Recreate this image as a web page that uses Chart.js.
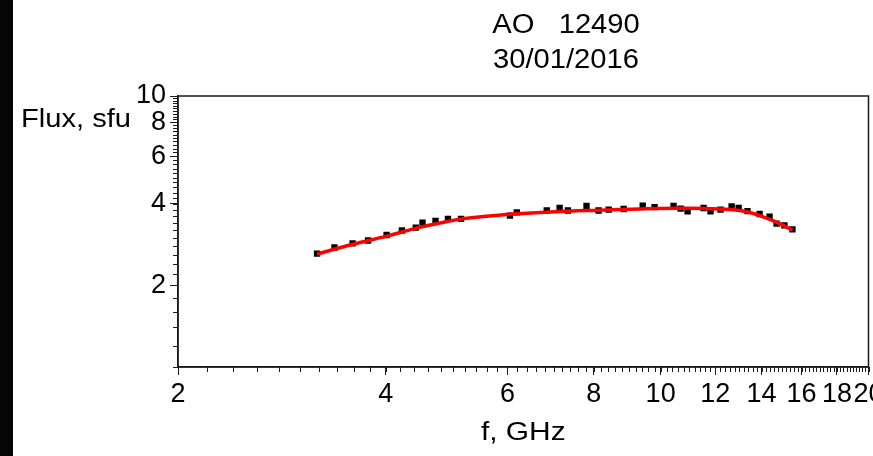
<!DOCTYPE html>
<html>
<head>
<meta charset="utf-8">
<script src="https://cdn.jsdelivr.net/npm/chart.js@4.4.1/dist/chart.umd.min.js"></script>
<style>
  html, body { margin: 0; padding: 0; background: #fff; overflow: hidden; }
  #wrap { position: relative; width: 873px; height: 456px; }
  #strip { position: absolute; left: 0; top: 0; width: 13px; height: 456px; background: #050505; }
  canvas { position: absolute; left: 0; top: 0; }
</style>
</head>
<body>
<div id="wrap">
  <canvas id="spectrum" width="873" height="456"></canvas>
  <div id="strip"></div>
</div>
<script>
const titleLines = ['AO   12490', '30/01/2016'];
const yAxisName = 'Flux, sfu';
const xAxisName = 'f, GHz';

// measured spectrum (GHz, sfu)
const freqGHz = [3.18, 3.37, 3.58, 3.77, 4.01, 4.22, 4.42, 4.52, 4.72, 4.92, 5.14,
                 6.05, 6.19, 6.84, 7.14, 7.34, 7.81, 8.13, 8.41, 8.84, 9.42, 9.80,
                 10.44, 10.69, 10.94, 11.54, 11.81, 12.21, 12.67, 12.97, 13.36, 13.91,
                 14.38, 14.72, 15.11, 15.52];
const fluxSfu = [2.62, 2.76, 2.86, 2.93, 3.07, 3.19, 3.27, 3.41, 3.46, 3.52, 3.52,
                 3.62, 3.72, 3.78, 3.86, 3.78, 3.93, 3.78, 3.81, 3.83, 3.94, 3.89,
                 3.93, 3.84, 3.75, 3.86, 3.75, 3.81, 3.91, 3.86, 3.76, 3.67,
                 3.59, 3.38, 3.33, 3.22];

// fitted curve
const fitFreq = [3.18, 3.57, 4.01, 4.44, 4.79, 5.14, 5.60, 6.11, 7.14, 8.16, 9.33,
                 10.66, 12.17, 13.32, 14.24, 14.87, 15.52];
const fitFlux = [2.61, 2.83, 3.04, 3.26, 3.40, 3.52, 3.60, 3.67, 3.75, 3.79, 3.83,
                 3.85, 3.83, 3.74, 3.54, 3.38, 3.20];

const xTickValues = [2, 4, 6, 8, 10, 12, 14, 16, 18, 20];
const yTickValues = [2, 4, 6, 8, 10];

const FONT = "'Liberation Sans', Arial, sans-serif";
const AXIS = '#1a1a1a';

// small ticks every 0.2 on both log axes, plus the box round the plot
const frameAndMinorTicks = {
    id: 'frameAndMinorTicks',
    afterDraw(chart) {
        const ctx = chart.ctx;
        const a = chart.chartArea;
        const x = chart.scales.x;
        const y = chart.scales.y;
        ctx.save();
        ctx.strokeStyle = AXIS;
        ctx.lineWidth = 1;
        ctx.beginPath();
        for (let i = 20; i <= 200; i += 2) {
            const px = Math.round(x.getPixelForValue(i / 10)) + 0.5;
            ctx.moveTo(px, a.bottom);
            ctx.lineTo(px, a.bottom + 5);
        }
        for (let i = 10; i <= 100; i += 2) {
            const py = Math.round(y.getPixelForValue(i / 10)) + 0.5;
            ctx.moveTo(a.left - 5, py);
            ctx.lineTo(a.left, py);
        }
        ctx.stroke();
        ctx.lineWidth = 1.5;
        ctx.strokeRect(a.left, a.top, a.right - a.left, a.bottom - a.top);
        ctx.restore();
    }
};

// text drawn a little wide, like the plotting program's output
function wideText(ctx, text, x, y, size, stretch, align) {
    ctx.save();
    ctx.font = size + 'px ' + FONT;
    ctx.textAlign = align;
    ctx.translate(x, y);
    ctx.scale(stretch, 1);
    ctx.fillText(text, 0, 0);
    ctx.restore();
}

const captions = {
    id: 'captions',
    afterDraw(chart) {
        const ctx = chart.ctx;
        const a = chart.chartArea;
        ctx.save();
        ctx.fillStyle = '#000';
        ctx.textBaseline = 'alphabetic';
        wideText(ctx, titleLines[0], 566, 33, 27, 1.08, 'center');
        wideText(ctx, titleLines[1], 566, 68, 27, 1.08, 'center');
        ctx.textBaseline = 'middle';
        wideText(ctx, yAxisName, 21, chart.scales.y.getPixelForValue(8) - 2, 26, 1.12, 'left');
        wideText(ctx, xAxisName, (a.left + a.right) / 2, 433, 26, 1.15, 'center');
        ctx.restore();
    }
};

const ctx = document.getElementById('spectrum').getContext('2d');

const chart = new Chart(ctx, {
    type: 'scatter',
    data: {
        datasets: [{
            type: 'line',
            label: 'fit',
            data: fitFreq.map((f, i) => ({ x: f, y: fitFlux[i] })),
            borderColor: '#ff0000',
            borderWidth: 3.5,
            pointRadius: 0,
            tension: 0.4,
            fill: false,
            order: 0
        }, {
            label: 'data',
            data: freqGHz.map((f, i) => ({ x: f, y: fluxSfu[i] })),
            pointStyle: 'rect',
            pointRadius: 4.5,
            backgroundColor: '#000',
            borderColor: '#000',
            borderWidth: 0,
            order: 1
        }]
    },
    options: {
        responsive: false,
        animation: false,
        devicePixelRatio: 1,
        layout: {
            padding: { left: 0, top: 96, right: 4, bottom: 0 }
        },
        scales: {
            x: {
                type: 'logarithmic',
                min: 2,
                max: 20,
                afterBuildTicks: function(scale) {
                    scale.ticks = xTickValues.map(v => ({ value: v }));
                },
                afterFit: function(scale) {
                    scale.height = 89;
                    scale.paddingLeft = 0;
                    scale.paddingRight = 0;
                },
                grid: {
                    drawOnChartArea: false,
                    drawTicks: true,
                    tickLength: 8,
                    color: AXIS
                },
                border: { display: true, color: AXIS, width: 1.5 },
                ticks: {
                    autoSkip: false,
                    maxRotation: 0,
                    minRotation: 0,
                    padding: 3,
                    color: '#000',
                    font: { family: FONT, size: 27 },
                    callback: function(value) { return String(value); }
                }
            },
            y: {
                type: 'logarithmic',
                min: 1,
                max: 10,
                afterBuildTicks: function(scale) {
                    scale.ticks = yTickValues.map(v => ({ value: v }));
                },
                afterFit: function(scale) {
                    scale.width = 178;
                    scale.paddingTop = 0;
                    scale.paddingBottom = 0;
                },
                grid: {
                    drawOnChartArea: false,
                    drawTicks: true,
                    tickLength: 8,
                    color: AXIS
                },
                border: { display: true, color: AXIS, width: 1.5 },
                ticks: {
                    autoSkip: false,
                    padding: 4,
                    color: '#000',
                    font: { family: FONT, size: 27 },
                    callback: function(value) { return String(value); }
                }
            }
        },
        plugins: {
            legend: { display: false },
            tooltip: { enabled: false },
            title: { display: false }
        }
    },
    plugins: [frameAndMinorTicks, captions]
});
</script>
</body>
</html>
